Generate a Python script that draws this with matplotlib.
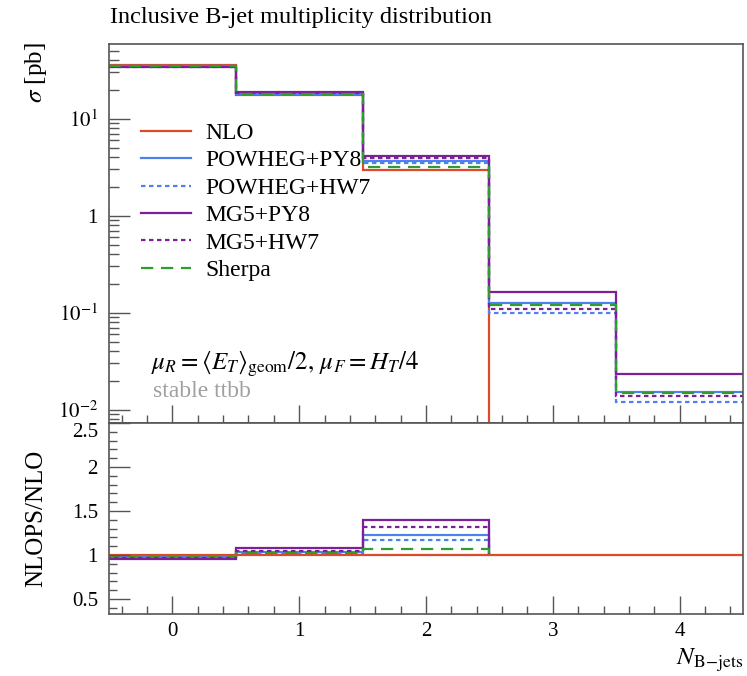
import numpy as np
import matplotlib
matplotlib.use("Agg")
import matplotlib.pyplot as plt
from matplotlib.ticker import FixedLocator, NullFormatter, LogLocator, MultipleLocator
from matplotlib.lines import Line2D

# ---- data ----
bin_edges = [-0.5, 0.5, 1.5, 2.5, 3.5, 4.5]
x_ticks = [0, 1, 2, 3, 4]
nlo = [35.5, 17.5, 2.98, 0.0, 0.0]
powheg_py8 = [34.8, 18.2, 3.67, 0.127, 0.0153]
powheg_hw7 = [35.0, 18.0, 3.49, 0.100, 0.0121]
mg5_py8 = [33.9, 18.9, 4.18, 0.164, 0.0235]
mg5_hw7 = [34.4, 18.4, 3.92, 0.110, 0.0139]
sherpa = [35.1, 18.0, 3.20, 0.121, 0.0150]
labels = ["NLO", "POWHEG+PY8", "POWHEG+HW7", "MG5+PY8", "MG5+HW7", "Sherpa"]

# ---- styles ----
c_nlo = "#dc4a2a"
c_pow = "#4d82ee"
c_mg5 = "#7e1f9a"
c_she = "#2e9c2e"
dot = (0, (2.0, 1.6))
series = [
    (nlo, c_nlo, "-"),
    (powheg_py8, c_pow, "-"),
    (powheg_hw7, c_pow, dot),
    (mg5_py8, c_mg5, "-"),
    (mg5_hw7, c_mg5, dot),
    (sherpa, c_she, (0, (5.5, 3.5))),
]

plt.rcParams["font.family"] = ["Liberation Serif", "DejaVu Serif"]
plt.rcParams["mathtext.fontset"] = "stix"

W, H = 747, 676
fig = plt.figure(figsize=(W / 100, H / 100), dpi=100)
L, R = 109 / W, 743 / W
top_main, mid, bot = 44 / H, 423 / H, 614 / H
ax = fig.add_axes([L, 1 - mid, R - L, mid - top_main])
axr = fig.add_axes([L, 1 - bot, R - L, bot - mid], sharex=ax)

edges = np.array(bin_edges)
lw = 1.6
for vals, col, ls in series:
    ax.stairs(np.array(vals), edges, baseline=None, color=col, linestyle=ls, lw=lw)

ax.set_yscale("log")
ax.set_ylim(0.0073, 59)
ax.set_xlim(-0.5, 4.5)

# ratio
nlo_arr = np.array(nlo)
n_valid = int((nlo_arr > 0).sum())
for vals, col, ls in series[1:]:
    r = np.array(vals)[:n_valid] / nlo_arr[:n_valid]
    axr.stairs(r, edges[:n_valid + 1], baseline=1.0, color=col, linestyle=ls, lw=lw)
axr.stairs(np.ones(len(nlo)), edges, baseline=None, color=c_nlo, lw=lw)
axr.set_ylim(0.33, 2.5)

# legend
leg_handles = [Line2D([], [], color=c, linestyle=ls, lw=lw) for _, c, ls in series]
ax.legend(leg_handles, labels, loc="upper left", bbox_to_anchor=(0.036, 0.818),
          frameon=False, fontsize=17, handlelength=2.1, handletextpad=0.63,
          labelspacing=0.25, borderaxespad=0)

ax.text(0.067, 0.155, r"$\mu_R = \langle E_T\rangle_{\mathrm{geom}}/2,\, \mu_F = H_T/4$",
        transform=ax.transAxes, fontsize=18, ha="left", va="center")
ax.text(0.07, 0.083, "stable ttbb", transform=ax.transAxes, fontsize=17,
        color="#a0a0a0", ha="left", va="center")

fig.text(110 / W, 1 - 17 / H, "Inclusive B-jet multiplicity distribution",
         fontsize=17.5, ha="left", va="center")
fig.text(36 / W, 1 - 73 / H, r"$\sigma$ [pb]", rotation=90, fontsize=18,
         ha="center", va="center")
fig.text(36 / W, 1 - 518 / H, "NLOPS/NLO", rotation=90, fontsize=18,
         ha="center", va="center")
fig.text(743 / W, 1 - 660 / H, r"$N_{\mathrm{B\!-\!jets}}$", fontsize=18,
         ha="right", va="center")

frame_col = "#555555"
for a in (ax, axr):
    for s in a.spines.values():
        s.set_color(frame_col)
        s.set_linewidth(1.2)
    a.tick_params(which="both", direction="in", color="#555555", width=1.0,
                  top=False, right=False, labelsize=15)
    a.tick_params(which="major", length=13)
    a.tick_params(which="minor", length=6)

ax.xaxis.set_major_locator(FixedLocator(x_ticks))
ax.xaxis.set_minor_locator(MultipleLocator(0.2))
ax.tick_params(axis="x", labelbottom=False)
ax.tick_params(axis="y", which="major", length=15, pad=8)
ax.tick_params(axis="y", which="minor", length=7)
ax.yaxis.set_major_locator(FixedLocator([0.01, 0.1, 1, 10]))
ax.yaxis.set_minor_locator(LogLocator(base=10, subs=np.arange(2, 10)))
ax.yaxis.set_minor_formatter(NullFormatter())
ax.set_yticklabels([r"$10^{-2}$", r"$10^{-1}$", "1", r"$10^{1}$"])

axr.yaxis.set_major_locator(FixedLocator([0.5, 1, 1.5, 2, 2.5]))
axr.yaxis.set_minor_locator(MultipleLocator(0.1))
axr.set_yticklabels(["0.5", "1", "1.5", "2", "2.5"])
axr.tick_params(axis="y", which="major", length=15, pad=8)
axr.tick_params(axis="x", pad=6)
axr.set_xticks(x_ticks)
axr.set_xticklabels([str(v) for v in x_ticks])
# nudge top ratio label slightly down to limit overlap with 10^-2
for t in axr.get_yticklabels():
    if t.get_text() == "2.5":
        t.set_va("top")

fig.savefig("out.png", dpi=100)
